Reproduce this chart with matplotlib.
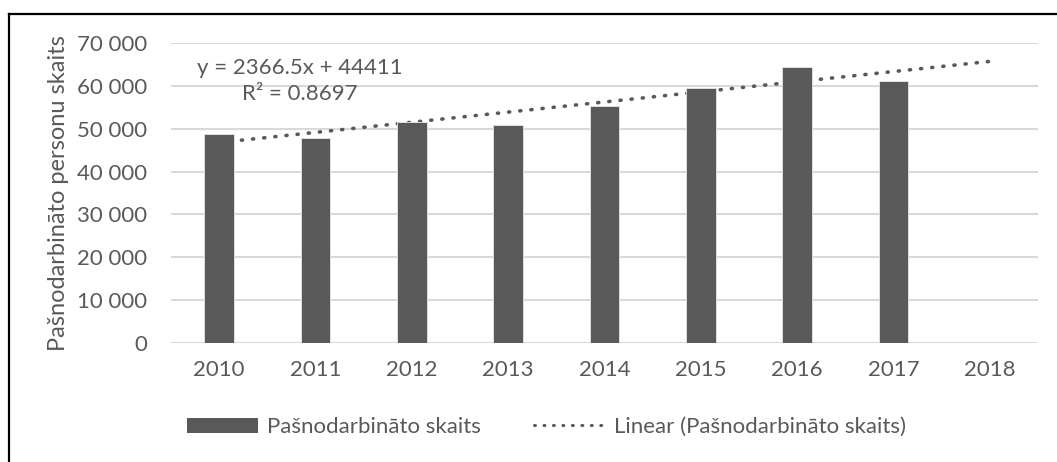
import numpy as np
import matplotlib.pyplot as plt
from matplotlib.patches import Patch
from matplotlib.lines import Line2D

plt.rcParams['font.family'] = ['Lato', 'DejaVu Sans']

# dati
years = ['2010', '2011', '2012', '2013', '2014', '2015', '2016', '2017', '2018']
values = [48800, 47800, 51600, 50900, 55300, 59400, 64500, 61200]
slope = 2366.5
intercept = 44411
r2 = 0.8697

grey = '#595959'
text_grey = '#595959'
fs = 16

fig = plt.figure(figsize=(10.57, 4.62), dpi=100)
ax = fig.add_axes([0.1618, 0.2576, 0.8202, 0.6493])

x = np.arange(len(years))
ax.bar(x[:len(values)], values, width=0.31, color=grey, edgecolor='#e8e8e8',
       linewidth=0.6, zorder=3)

# lineāra tendence (x = 1..9)
xt = np.arange(1, len(years) + 1)
ax.plot(x, slope * xt + intercept, color=grey, linewidth=2.6,
        linestyle=(0, (0.3, 2.8)), dash_capstyle='round', zorder=2)

ax.text(0.84, 61200, f'y = {slope}x + {intercept}\nR² = {r2}', ha='center', va='center',
        fontsize=fs, color=text_grey, linespacing=1.4, zorder=4)

ax.set_xlim(-0.5, len(years) - 0.5)
ax.set_ylim(0, 70000)
ax.set_yticks(np.arange(0, 70001, 10000))
ax.set_yticklabels(['0' if v == 0 else f'{v // 1000} 000' for v in range(0, 70001, 10000)])
ax.set_xticks(x)
ax.set_xticklabels(years)
ax.grid(axis='y', color='#d9d9d9', linewidth=1.5, zorder=0)
ax.set_axisbelow(True)
for s in ax.spines.values():
    s.set_visible(False)
ax.tick_params(axis='both', length=0, labelsize=fs, labelcolor=text_grey)
ax.tick_params(axis='y', pad=17)
ax.tick_params(axis='x', pad=12)
ax.set_ylabel('Pašnodarbināto personu skaits', fontsize=17, color=text_grey, labelpad=6)

handles = [Patch(facecolor=grey, edgecolor='none'),
           Line2D([0], [0], color=grey, linewidth=2.2, linestyle=(0, (0.3, 2.8)),
                  dash_capstyle='round')]
fig.legend(handles, ['Pašnodarbināto skaits', 'Linear (Pašnodarbināto skaits)'],
           loc='center', bbox_to_anchor=(0.517, 1 - 427 / 462), ncol=2, frameon=False,
           fontsize=fs, labelcolor=text_grey, handlelength=3.2, handleheight=0.65,
           handletextpad=0.4, columnspacing=2.4)

# rāmis augšā un pa kreisi
fig.add_artist(Line2D([8.5 / 1057, 1], [1 - 13.5 / 462] * 2, color='black', linewidth=1.6))
fig.add_artist(Line2D([8.5 / 1057] * 2, [0, 1 - 13.5 / 462], color='black', linewidth=1.6))

fig.savefig('out.png', dpi=100)
